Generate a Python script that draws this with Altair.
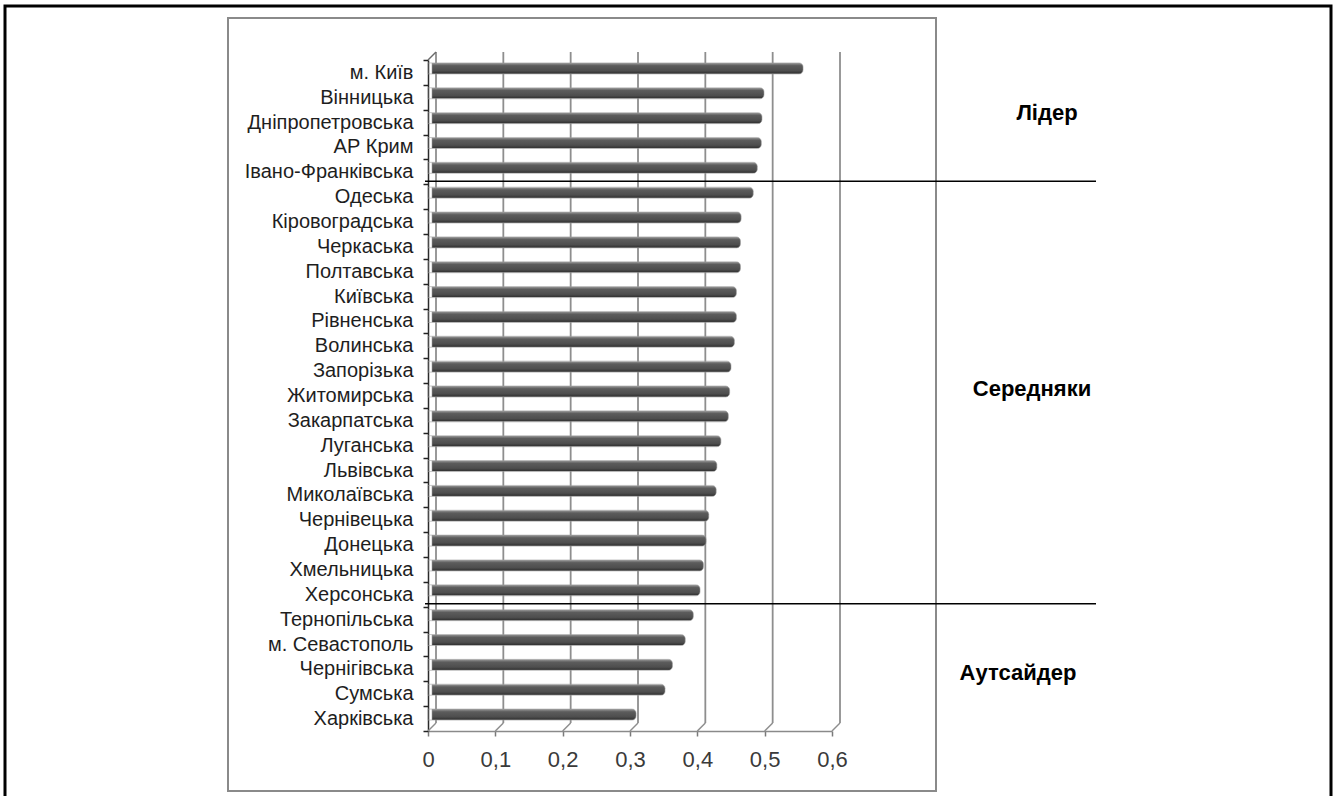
import altair as alt
import pandas as pd

# Regions, top to bottom, and their index values
regions = [
    "м. Київ", "Вінницька", "Дніпропетровська", "АР Крим", "Івано-Франківська",
    "Одеська", "Кіровоградська", "Черкаська", "Полтавська", "Київська",
    "Рівненська", "Волинська", "Запорізька", "Житомирська", "Закарпатська",
    "Луганська", "Львівська", "Миколаївська", "Чернівецька", "Донецька",
    "Хмельницька", "Херсонська", "Тернопільська", "м. Севастополь",
    "Чернігівська", "Сумська", "Харківська",
]
values = [
    0.557, 0.499, 0.496, 0.495, 0.489,
    0.483, 0.465, 0.464, 0.464, 0.458,
    0.458, 0.455, 0.450, 0.448, 0.446,
    0.435, 0.429, 0.428, 0.417, 0.413,
    0.409, 0.404, 0.394, 0.382,
    0.363, 0.352, 0.309,
]
x_ticks = [0.0, 0.1, 0.2, 0.3, 0.4, 0.5, 0.6]

# First region of each group below a dividing line
group_starts = ["Одеська", "Тернопільська"]
group_names = ["Лідер", "Середняки", "Аутсайдер"]

W, H = 404, 671          # plot area
DEPTH = 8                # pseudo-3D depth of the back wall
FONT = "Liberation Sans"

df = pd.DataFrame({"region": regions, "value": values})
ticks_df = pd.DataFrame({"v": x_ticks})
starts_df = pd.DataFrame({"region": group_starts})
one = pd.DataFrame({"k": [0]})

x_scale = alt.Scale(domain=[0, 0.6], nice=False, zero=True)
y_scale = alt.Scale(domain=regions, paddingInner=0, paddingOuter=0)

x_axis = alt.Axis(
    values=x_ticks,
    labelExpr="datum.value == 0 ? '0' : replace(format(datum.value, '.1f'), '.', ',')",
    labelFont=FONT, labelFontSize=22, labelColor="#3a3a3a", labelPadding=13,
    labelFlush=False, tickSize=5, tickColor="#7a7a7a", tickWidth=1.5,
    domainColor="#8a8a8a", domainWidth=1.5, grid=False, title="",
)
y_axis = alt.Axis(
    labelFont=FONT, labelFontSize=20, labelColor="#1e1e1e", labelPadding=10,
    tickSize=5, tickColor="#222222", tickWidth=1.5, tickBand="extent",
    domainColor="#2a2a2a", domainWidth=1.5, grid=False, title="",
)

# Outer page frame and the chart box
frame = alt.Chart(one).mark_rect(fillOpacity=0, stroke="black", strokeWidth=3).encode(
    x=alt.value(-423), x2=alt.value(903), y=alt.value(-54), y2=alt.value(745)
)
box = alt.Chart(one).mark_rect(fillOpacity=0, stroke="#8a8a8a", strokeWidth=2).encode(
    x=alt.value(-200), x2=alt.value(508), y=alt.value(-42), y2=alt.value(731)
)

# Back-wall gridlines and the floor edges joining them to the front axis
grid = alt.Chart(ticks_df).mark_rule(color="#8e8e8e", strokeWidth=1.8, xOffset=DEPTH).encode(
    x=alt.X("v:Q", scale=x_scale, axis=x_axis),
    y=alt.value(-DEPTH), y2=alt.value(H - DEPTH),
)
floor = alt.Chart(ticks_df).mark_rule(color="#8e8e8e", strokeWidth=1.5, x2Offset=DEPTH).encode(
    x=alt.X("v:Q", scale=x_scale), x2="v:Q",
    y=alt.value(H), y2=alt.value(H - DEPTH),
)
corner = alt.Chart(one).mark_rule(color="#6a6a6a", strokeWidth=1.5).encode(
    x=alt.value(0), x2=alt.value(DEPTH), y=alt.value(0), y2=alt.value(-DEPTH)
)

shade = alt.Gradient(
    gradient="linear", x1=0, x2=0, y1=0, y2=1,
    stops=[
        alt.GradientStop(color="#9a9a9a", offset=0),
        alt.GradientStop(color="#5c5c5c", offset=0.25),
        alt.GradientStop(color="#4e4e4e", offset=0.7),
        alt.GradientStop(color="#2c2c2c", offset=1),
    ],
)
bars = alt.Chart(df).mark_bar(
    size=11, xOffset=DEPTH / 2, x2Offset=DEPTH / 2, yOffset=-DEPTH / 2,
    cornerRadiusEnd=4, color=shade, stroke="#9a9a9a", strokeWidth=0.8, strokeOpacity=0.7,
).encode(
    x=alt.X("value:Q", scale=x_scale),
    y=alt.Y("region:N", scale=y_scale, sort=regions, axis=y_axis),
)

# Lines dividing the three groups
dividers = alt.Chart(starts_df).mark_rule(color="black", strokeWidth=1.5, yOffset=-3).encode(
    y=alt.Y("region:N", scale=y_scale, sort=regions, bandPosition=0),
    x=alt.value(-3), x2=alt.value(668),
)

label_pos = [(619, 53), (604, 329), (590, 613)]
group_labels = [
    alt.Chart(one).mark_text(
        text=name, font=FONT, fontSize=22, fontWeight="bold", color="black",
        align="center", baseline="middle",
    ).encode(x=alt.value(px), y=alt.value(py))
    for name, (px, py) in zip(group_names, label_pos)
]

chart = alt.layer(
    box, frame, grid, floor, corner, bars, dividers, *group_labels
).properties(
    width=W, height=H,
    autosize=alt.AutoSizeParams(type="none"),
    padding={"left": 428, "top": 60, "right": 1336 - 428 - W, "bottom": 796 - 60 - H},
    background="white",
).configure_view(stroke="transparent")

chart.save("out.html", embed_options={"renderer": "svg", "actions": False})
